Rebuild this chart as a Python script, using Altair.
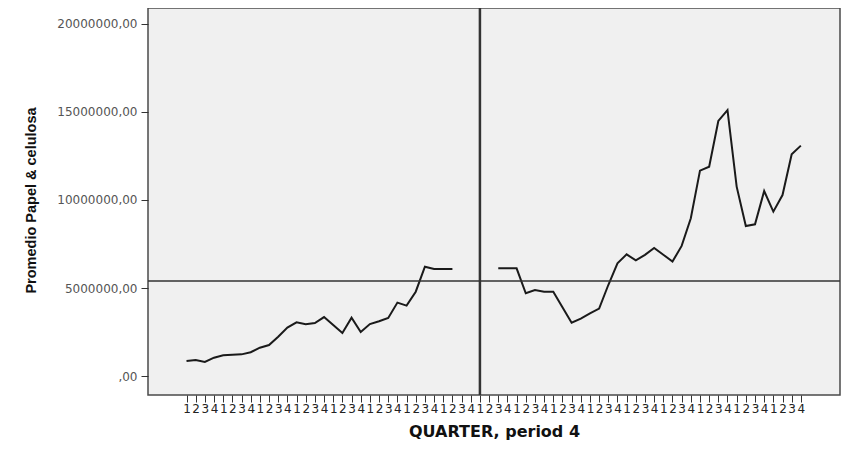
import altair as alt
import pandas as pd

# quarter index (0 = first quarter shown) and values in millions
left_quarters = list(range(0, 30))
left_values = [0.85, 0.91, 0.80, 1.04, 1.18, 1.21, 1.23, 1.35, 1.61, 1.76,
               2.23, 2.75, 3.05, 2.94, 3.01, 3.35, 2.90, 2.44, 3.31, 2.50,
               2.95, 3.11, 3.30, 4.17, 4.00, 4.79, 6.21, 6.08, 6.08, 6.08]
right_quarters = list(range(34, 68))
right_values = [6.12, 6.12, 6.12, 4.70, 4.89, 4.79, 4.79, 3.90, 3.03, 3.26,
                3.56, 3.83, 5.17, 6.40, 6.91, 6.57, 6.88, 7.27, 6.89, 6.50,
                7.39, 8.96, 11.67, 11.89, 14.49, 15.11, 10.76, 8.52, 8.62, 10.51,
                9.34, 10.28, 12.60, 13.09]
tick_positions = list(range(0, 68))
y_ticks = [0, 5000000, 10000000, 15000000, 20000000]
mean_level = 5400000
intervention = 32

rows = [{"q": q, "v": v * 1e6, "seg": "pre"} for q, v in zip(left_quarters, left_values)]
rows += [{"q": q, "v": v * 1e6, "seg": "post"} for q, v in zip(right_quarters, right_values)]
df = pd.DataFrame(rows)

x_scale = alt.Scale(domain=[-4.2, 71.27], nice=False, zero=False)
y_scale = alt.Scale(domain=[-1079500, 20909000], nice=False, zero=False)

x_axis = alt.Axis(
    values=tick_positions,
    labelExpr="toString(datum.value % 4 + 1)",
    title="QUARTER, period 4",
    grid=False, domain=False,
    tickSize=7, tickColor="#333333", tickWidth=1,
    labelFont="DejaVu Sans", labelFontSize=12, labelColor="#222222",
    labelOverlap=False, labelFlush=False, labelPadding=1, labelBound=False,
    titleFont="DejaVu Sans", titleFontSize=16, titleFontWeight="bold", titleColor="#111111",
    titleBaseline="middle", titleY=36,
)
y_axis = alt.Axis(
    values=y_ticks,
    labelExpr="(datum.value == 0 ? '' : format(datum.value, 'd')) + ',00'",
    title="Promedio Papel & celulosa",
    grid=False, domain=False,
    tickSize=7, tickColor="#333333", tickWidth=1,
    labelFont="DejaVu Sans", labelFontSize=12, labelColor="#555555", labelPadding=4,
    labelOverlap=False, labelFlush=False,
    titleFont="Liberation Sans", titleFontSize=14.5, titleFontWeight="bold", titleColor="#111111",
    titleAngle=270, titleAlign="center", titleBaseline="middle", titleX=-117, titleY=192,
)

x_enc = alt.X("q:Q", scale=x_scale, axis=x_axis)
y_enc = alt.Y("v:Q", scale=y_scale, axis=y_axis)

line = alt.Chart(df).mark_line(color="#1a1a1a", strokeWidth=2).encode(
    x=x_enc, y=y_enc, detail="seg:N"
)
hrule = alt.Chart(pd.DataFrame({"v": [mean_level]})).mark_rule(
    color="#333333", strokeWidth=1.5
).encode(y=y_enc)
vrule = alt.Chart(pd.DataFrame({"q": [intervention]})).mark_rule(
    color="#333333", strokeWidth=2.5
).encode(x=x_enc)

chart = alt.layer(line, hrule, vrule).properties(
    width=692, height=387,
    background="white",
    padding={"left": 140, "top": 0, "right": 3, "bottom": 50},
    autosize=alt.AutoSizeParams(type="none"),
).configure_view(
    fill="#f0f0f0", stroke="#4a4a4a", strokeWidth=1.5
)

chart.save("out.html", embed_options={"renderer": "svg", "actions": False})
